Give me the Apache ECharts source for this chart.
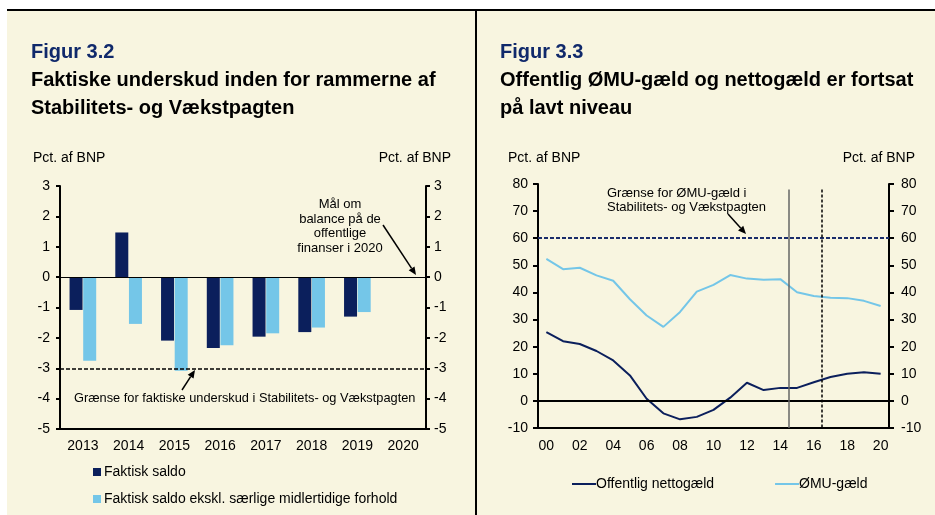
<!DOCTYPE html>
<html>
<head>
<meta charset="utf-8">
<script src="https://cdn.jsdelivr.net/npm/echarts@6/dist/echarts.min.js"></script>
<style>
html, body { margin: 0; padding: 0; background: #fff; }
#main { width: 935px; height: 515px; }
</style>
</head>
<body>
<div id="main"></div>
<script>
// Figur 3.2 - faktisk saldo, pct. af BNP
var years32 = ['2013', '2014', '2015', '2016', '2017', '2018', '2019', '2020'];
var faktiskSaldo = [-1.08, 1.47, -2.09, -2.33, -1.96, -1.81, -1.30, -0.03];
var faktiskEkskl = [-2.75, -1.54, -3.08, -2.24, -1.85, -1.66, -1.15, -0.03];
var graense32 = -3;

// Figur 3.3 - gæld, pct. af BNP
var years33 = ['00', '01', '02', '03', '04', '05', '06', '07', '08', '09', '10',
               '11', '12', '13', '14', '15', '16', '17', '18', '19', '20'];
var nettogaeld = [25.4, 22.0, 21.0, 18.4, 14.9, 9.4, 0.8, -4.6, -6.8, -5.9, -3.3,
                  1.2, 6.7, 4.0, 4.8, 4.8, 6.9, 8.8, 10.0, 10.6, 10.0];
var omuGaeld = [52.4, 48.6, 49.1, 46.3, 44.3, 37.5, 31.5, 27.3, 32.8, 40.3, 42.8,
                46.4, 45.1, 44.7, 44.9, 40.1, 38.7, 38.0, 37.9, 36.9, 35.0];
var graense33 = 60;
// skillelinjer mellem historik og prognose (kategorigrænser)
var skille = [15, 17];

var NAVY = '#0b1f5c';
var LIGHT = '#74c6e8';
var FONT = 'Liberation Sans, Arial, sans-serif';

var myChart = echarts.init(document.getElementById('main'));

function yAx(grid, pos, min, max, step, margin, tick) {
    return {
        type: 'value', gridIndex: grid, position: pos,
        min: min, max: max, interval: step,
        axisLine: { show: true, lineStyle: { color: '#000', width: 2 } },
        axisTick: { show: true, length: tick, lineStyle: { color: '#000', width: 2 } },
        axisLabel: { color: '#000', fontSize: 14, fontFamily: FONT, margin: margin },
        splitLine: { show: false }
    };
}

function txt(x, y, text, opt) {
    return {
        type: 'text', left: x, top: y, silent: true,
        style: Object.assign({ text: text, fill: '#000', font: '14px ' + FONT }, opt || {})
    };
}

// pil til annoteringerne
function arrow(x1, y1, x2, y2) {
    var a = Math.atan2(y2 - y1, x2 - x1), len = 8, w = 3.5;
    var bx = x2 - len * Math.cos(a), by = y2 - len * Math.sin(a);
    return [
        { type: 'line', silent: true, shape: { x1: x1, y1: y1, x2: bx, y2: by },
          style: { stroke: '#000', lineWidth: 1.5 } },
        { type: 'polygon', silent: true,
          shape: { points: [[x2, y2],
                            [bx + w * Math.sin(a), by - w * Math.cos(a)],
                            [bx - w * Math.sin(a), by + w * Math.cos(a)]] },
          style: { fill: '#000' } }
    ];
}

var option = {
    backgroundColor: '#f8f5e0',
    animation: false,
    textStyle: { fontFamily: FONT },
    grid: [
        { left: 60, right: 509, top: 186, bottom: 86 },
        { left: 538, right: 46, top: 184, bottom: 87 }
    ],
    xAxis: [
        {
            type: 'category', gridIndex: 0, data: years32,
            axisLine: { onZero: false, lineStyle: { color: '#000', width: 2 } },
            axisTick: { length: 5, lineStyle: { color: '#000', width: 2 } },
            axisLabel: { color: '#000', fontSize: 14, fontFamily: FONT, margin: 10 }
        },
        {
            type: 'category', gridIndex: 1, data: years33,
            axisLine: { onZero: false, lineStyle: { color: '#000', width: 2 } },
            axisTick: { length: 4, interval: 0, lineStyle: { color: '#000', width: 2 } },
            axisLabel: { color: '#000', fontSize: 14, fontFamily: FONT, margin: 11, interval: 1 }
        },
        { type: 'value', gridIndex: 1, min: 0, max: 21, show: false }
    ],
    yAxis: [
        yAx(0, 'left', -5, 3, 1, 10, 4),
        yAx(0, 'right', -5, 3, 1, 8, 4),
        yAx(1, 'left', -10, 80, 10, 10, 5),
        yAx(1, 'right', -10, 80, 10, 12, 5)
    ],
    legend: [
        {
            data: ['Faktisk saldo', 'Faktisk saldo ekskl. særlige midlertidige forhold'],
            orient: 'vertical', left: 88, top: 460, itemGap: 13,
            icon: 'rect', itemWidth: 8, itemHeight: 8, selectedMode: false,
            textStyle: { color: '#000', fontSize: 14, fontFamily: FONT, padding: [0, 0, 0, -2] }
        },
        {
            data: ['Offentlig nettogæld', 'ØMU-gæld'],
            left: 567, top: 472, itemGap: 61,
            icon: 'rect', itemWidth: 24, itemHeight: 2, selectedMode: false,
            textStyle: { color: '#000', fontSize: 14, fontFamily: FONT, padding: [0, 0, 0, -5] }
        }
    ],
    series: [
        {
            name: 'Faktisk saldo', type: 'bar',
            xAxisIndex: 0, yAxisIndex: 0,
            data: faktiskSaldo, barWidth: 13, barGap: '5%',
            itemStyle: { color: NAVY },
            markLine: {
                silent: true, symbol: 'none', label: { show: false },
                data: [
                    { yAxis: 0, lineStyle: { color: '#000', width: 1, type: 'solid' } },
                    { yAxis: graense32, lineStyle: { color: '#000', width: 1.5, type: [4, 2] } }
                ]
            }
        },
        {
            name: 'Faktisk saldo ekskl. særlige midlertidige forhold', type: 'bar',
            xAxisIndex: 0, yAxisIndex: 0,
            data: faktiskEkskl, barWidth: 13,
            itemStyle: { color: LIGHT }
        },
        {
            name: 'Offentlig nettogæld', type: 'line',
            xAxisIndex: 1, yAxisIndex: 2,
            data: nettogaeld, showSymbol: false,
            lineStyle: { color: NAVY, width: 2 }, itemStyle: { color: NAVY },
            markLine: {
                silent: true, symbol: 'none', label: { show: false },
                data: [{ yAxis: 0, lineStyle: { color: '#000', width: 2, type: 'solid' } }]
            }
        },
        {
            name: 'ØMU-gæld', type: 'line',
            xAxisIndex: 1, yAxisIndex: 2,
            data: omuGaeld, showSymbol: false,
            lineStyle: { color: LIGHT, width: 2 }, itemStyle: { color: LIGHT },
            markLine: {
                silent: true, symbol: 'none', label: { show: false },
                data: [{ yAxis: graense33, lineStyle: { color: '#1b2d6b', width: 2, type: [4, 2] } }]
            }
        },
        {
            name: 'skille', type: 'line',
            xAxisIndex: 2, yAxisIndex: 2, data: [],
            markLine: {
                silent: true, symbol: 'none', label: { show: false },
                data: [
                    [{ coord: [skille[0], 78], lineStyle: { color: '#666', width: 1.5, type: 'solid' } },
                     { coord: [skille[0], -10] }],
                    [{ coord: [skille[1], 78], lineStyle: { color: '#000', width: 1.5, type: [3, 2] } },
                     { coord: [skille[1], -10] }]
                ]
            }
        }
    ],
    graphic: [
        // hvid kant, topstreg og skillelinje
        { type: 'rect', left: 0, top: 0, shape: { width: 935, height: 9 }, style: { fill: '#fff' }, silent: true },
        { type: 'rect', left: 0, top: 0, shape: { width: 7, height: 515 }, style: { fill: '#fff' }, silent: true },
        { type: 'rect', left: 7, top: 9, shape: { width: 928, height: 2 }, style: { fill: '#000' }, silent: true },
        { type: 'rect', left: 475, top: 9, shape: { width: 2, height: 506 }, style: { fill: '#000' }, silent: true },

        txt(31, 42, 'Figur 3.2', { fill: '#10296b', font: 'bold 20px ' + FONT }),
        txt(31, 70, 'Faktiske underskud inden for rammerne af', { font: 'bold 20px ' + FONT }),
        txt(31, 98, 'Stabilitets- og Vækstpagten', { font: 'bold 20px ' + FONT }),
        txt(500, 42, 'Figur 3.3', { fill: '#10296b', font: 'bold 20px ' + FONT }),
        txt(500, 70, 'Offentlig ØMU-gæld og nettogæld er fortsat', { font: 'bold 20px ' + FONT }),
        txt(500, 98, 'på lavt niveau', { font: 'bold 20px ' + FONT }),

        txt(33, 151, 'Pct. af BNP'),
        { type: 'text', right: 935 - 451, top: 151, silent: true,
          style: { text: 'Pct. af BNP', fill: '#000', font: '14px ' + FONT } },
        txt(508, 151, 'Pct. af BNP'),
        { type: 'text', right: 935 - 915, top: 151, silent: true,
          style: { text: 'Pct. af BNP', fill: '#000', font: '14px ' + FONT } },

        txt(74, 392, 'Grænse for faktiske underskud i Stabilitets- og Vækstpagten', { font: '12.8px ' + FONT }),
        { type: 'text', x: 340, y: 197, silent: true,
          style: { text: 'Mål om\nbalance på de\noffentlige\nfinanser i 2020', fill: '#000',
                   font: '13px ' + FONT, align: 'center', lineHeight: 14.7 } },
        txt(607, 186, 'Grænse for ØMU-gæld i\nStabilitets- og Vækstpagten', { font: '13px ' + FONT, lineHeight: 14 })
    ].concat(arrow(182, 390, 195, 370), arrow(383, 225, 416, 275), arrow(728, 214, 746, 234))
};

myChart.setOption(option);
</script>
</body>
</html>
